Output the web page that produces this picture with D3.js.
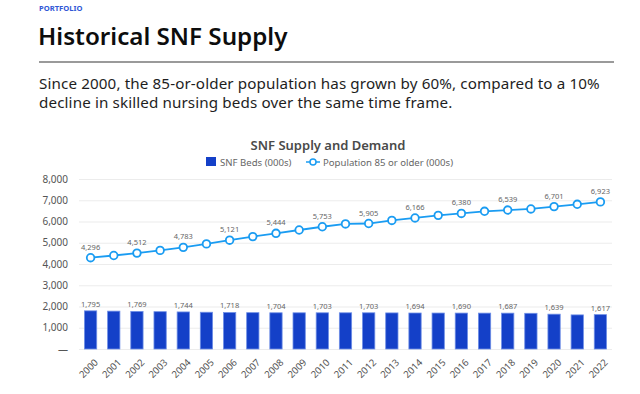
<!DOCTYPE html>
<html><head><meta charset="utf-8">
<script src="https://cdn.jsdelivr.net/npm/d3@7"></script>
<style>
html,body{margin:0;padding:0;background:#fff;}
svg{display:block;}
</style></head>
<body>
<svg id="c" width="640" height="394"></svg>
<script>
const years = ["2000","2001","2002","2003","2004","2005","2006","2007","2008","2009","2010","2011","2012","2013","2014","2015","2016","2017","2018","2019","2020","2021","2022"];
const snfBeds = [1795,1782,1769,1756,1744,1730,1718,1710,1704,1703,1703,1703,1703,1698,1694,1692,1690,1688,1687,1680,1639,1605,1617];
const pop85 = [4296,4400,4512,4640,4783,4945,5121,5290,5444,5600,5753,5885,5905,6050,6166,6290,6380,6480,6539,6590,6701,6810,6923];
const yTicks = [0,1000,2000,3000,4000,5000,6000,7000,8000];
const labelEvery = 2;

const FONT = "'Noto Sans', 'Open Sans', sans-serif";
const svg = d3.select("#c").style("font-family", FONT);

// header
svg.append("text").attr("x",39).attr("y",10.5).text("PORTFOLIO")
  .attr("font-size",7.6).attr("font-weight",700).attr("fill","#3158d6");
svg.append("text").attr("x",38).attr("y",44.5).text("Historical SNF Supply")
  .attr("font-size",24.2).attr("font-weight",600).attr("fill","#0d0d0d");
svg.append("rect").attr("x",39).attr("y",61).attr("width",575).attr("height",2).attr("fill","#9a9a9a");
svg.append("text").attr("x",39).attr("y",88.5).text("Since 2000, the 85-or-older population has grown by 60%, compared to a 10%")
  .attr("font-size",15.2).attr("letter-spacing",0.12).attr("fill","#1e1e1e");
svg.append("text").attr("x",39).attr("y",107.5).text("decline in skilled nursing beds over the same time frame.")
  .attr("font-size",15.2).attr("letter-spacing",0.12).attr("fill","#1e1e1e");

// chart
const x = d3.scaleBand().domain(years).range([79,612]).paddingInner(0.47).paddingOuter(0.235);
const y = d3.scaleLinear().domain([0,8000]).range([349,179]);

svg.append("text").attr("x",328).attr("y",150).attr("text-anchor","middle")
  .text("SNF Supply and Demand").attr("font-size",13).attr("font-weight",600).attr("fill","#4a4a4a");

// legend
const lg = svg.append("g");
lg.append("rect").attr("x",206).attr("y",157).attr("width",10).attr("height",9).attr("fill","#1440c8");
lg.append("text").attr("x",220).attr("y",166).text("SNF Beds (000s)").attr("font-size",9.6).attr("fill","#666");
lg.append("line").attr("x1",306).attr("x2",320).attr("y1",162).attr("y2",162).attr("stroke","#1a9cf2").attr("stroke-width",1.5);
lg.append("circle").attr("cx",313).attr("cy",162).attr("r",3).attr("fill","#fff").attr("stroke","#1a9cf2").attr("stroke-width",1.5);
lg.append("text").attr("x",323).attr("y",166).text("Population 85 or older (000s)").attr("font-size",9.6).attr("fill","#666");

// grid
const yAxis = d3.axisLeft(y).tickValues(yTicks).tickSize(-(612-79))
  .tickFormat(d => d === 0 ? "—" : d3.format(",")(d));
const ga = svg.append("g").attr("transform","translate(79,0)").call(yAxis);
ga.select(".domain").remove();
ga.selectAll(".tick line").attr("stroke","#ececec").attr("stroke-width",1.2);
ga.selectAll(".tick text").attr("x",-11).attr("font-size",10).attr("fill","#555").attr("font-family",FONT);

// bars
svg.append("g").selectAll("rect").data(years).join("rect")
  .attr("x", d => x(d)).attr("width", x.bandwidth())
  .attr("y", (d,i) => y(snfBeds[i])).attr("height", (d,i) => y(0) - y(snfBeds[i]))
  .attr("fill","#1440c8").attr("stroke","#6f8fe6").attr("stroke-width",0.8);

svg.append("g").selectAll("text").data(years.filter((d,i)=>i%labelEvery===0)).join("text")
  .attr("x", d => x(d)+x.bandwidth()/2).attr("y", d => y(snfBeds[years.indexOf(d)]) - 4)
  .attr("text-anchor","middle").attr("font-size",7.5).attr("fill","#666")
  .text(d => d3.format(",")(snfBeds[years.indexOf(d)]));

// line
const cx = d => x(d)+x.bandwidth()/2;
const line = d3.line().x((d,i)=>cx(years[i])).y(d=>y(d));
svg.append("path").datum(pop85).attr("d",line).attr("fill","none").attr("stroke","#1a9cf2").attr("stroke-width",1.8);
svg.append("g").selectAll("circle").data(years).join("circle")
  .attr("cx", d => cx(d)).attr("cy", (d,i) => y(pop85[i])).attr("r",3.8)
  .attr("fill","#fff").attr("stroke","#1a9cf2").attr("stroke-width",1.8);
svg.append("g").selectAll("text").data(years.filter((d,i)=>i%labelEvery===0)).join("text")
  .attr("x", d => cx(d)).attr("y", d => y(pop85[years.indexOf(d)]) - 8)
  .attr("text-anchor","middle").attr("font-size",7.5).attr("fill","#666")
  .text(d => d3.format(",")(pop85[years.indexOf(d)]));

// x axis labels
svg.append("g").selectAll("text").data(years).join("text")
  .attr("transform", d => `translate(${cx(d)+3},${358}) rotate(-45)`)
  .attr("text-anchor","end").attr("dy","0.75em").attr("font-size",9.6).attr("fill","#555")
  .text(d => d);
</script>
</body></html>
